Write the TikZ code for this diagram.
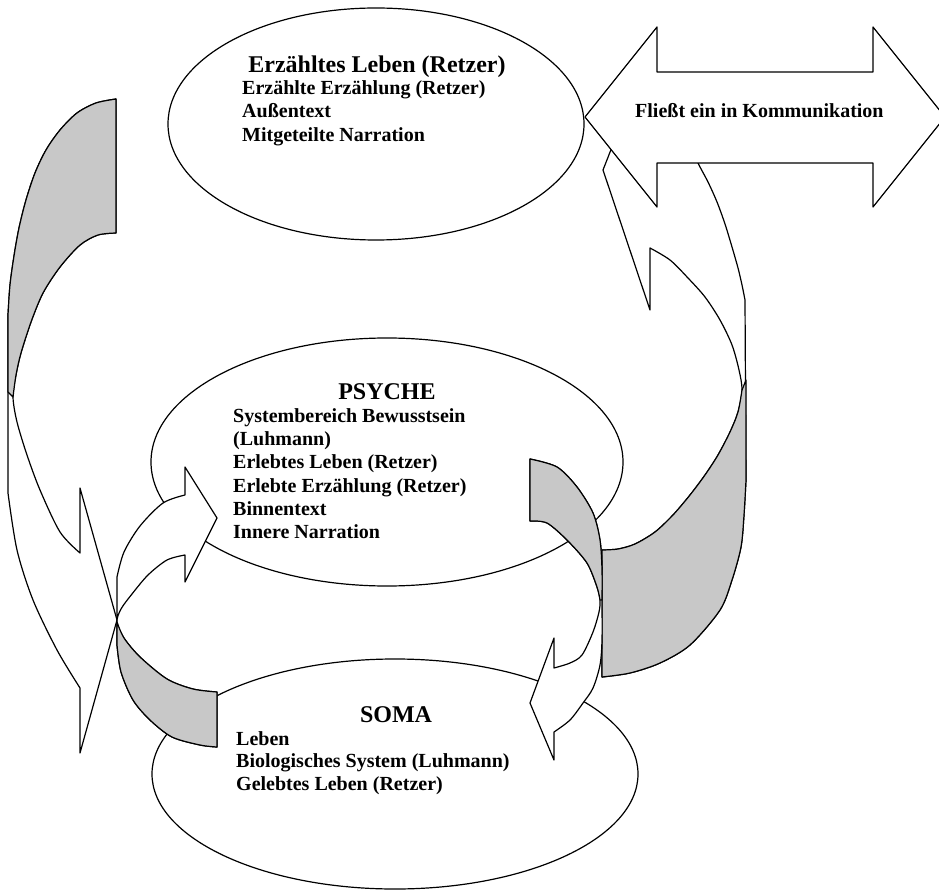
\documentclass[tikz,border=0pt]{standalone}
\usepackage{fontspec}
\setmainfont{Liberation Serif}
\usetikzlibrary{shapes.geometric}
\definecolor{ribbon}{RGB}{200,200,200}
\begin{document}
\begin{tikzpicture}[x=1pt,y=-1pt,
  outline/.style={draw=black, line width=1.2pt, line join=round},
  whitepart/.style={outline, fill=white},
  graypart/.style={outline, fill=ribbon},
  bubble/.style={ellipse, draw=black, line width=1.2pt, fill=white, inner sep=0pt},
  titletext/.style={font=\fontsize{24}{28}\selectfont\bfseries, anchor=base, inner sep=0pt},
  bodytext/.style={font=\fontsize{20}{23}\selectfont\bfseries, anchor=base west, inner sep=0pt},
]
\useasboundingbox (0,0) rectangle (939,890);
\fill[white] (0,0) rectangle (939,890);

% ellipses
\node[bubble, minimum width=416pt, minimum height=232pt] (narr) at (376,124) {};
\node[bubble, minimum width=472pt, minimum height=248pt] (psyche) at (387,462) {};
\node[bubble, minimum width=486pt, minimum height=230pt] (soma) at (395,774) {};

% A1: left big curved arrow
\path[whitepart] plot[smooth] coordinates {(116,99) (96,103) (77,113) (60,130) (46,150) (35,173) (26,200) (19,228) (14,256) (10,285) (8,315)}
  -- (8,493)
  -- plot[smooth] coordinates {(8,493) (17,550) (33,600) (57,650) (80,688)}
  -- (80,753) -- (117,620) -- (80,488) -- (80,553)
  -- plot[smooth] coordinates {(80,553) (60,532) (40,490) (27,455) (17,422) (13,397) (16,375) (21,353) (31,322) (43,293) (60,267) (80,245) (98,235) (116,233)}
  -- cycle;
\path[graypart] plot[smooth] coordinates {(116,99) (96,103) (77,113) (60,130) (46,150) (35,173) (26,200) (19,228) (14,256) (10,285) (8,315)}
  -- (8,392)
  -- plot[smooth] coordinates {(13,397) (16,375) (21,353) (31,322) (43,293) (60,267) (80,245) (98,235) (116,233)}
  -- cycle;

% A2: right big curved arrow
\path[whitepart] plot[smooth] coordinates {(602,550) (618,549) (635,544) (655,532) (673,515) (690,495) (705,475) (718,455) (730,432) (738,412) (742,390) (739,370) (732,345) (720,320) (705,297) (688,278) (670,260) (650,248)}
  -- (650,310) -- (603,170) -- (654,40) -- (654,92)
  -- plot[smooth] coordinates {(654,92) (672,118) (688,140) (698,163) (708,182) (717,202) (725,224) (732,247) (738,268) (742,285) (745,300)}
  -- (746,480)
  -- plot[smooth] coordinates {(746,480) (744,515) (741,547) (732,580) (720,610) (690,645) (660,663) (630,673) (602,677)}
  -- cycle;
\path[graypart] plot[smooth] coordinates {(742,390) (738,412) (730,432) (718,455) (705,475) (690,495) (673,515) (655,532) (635,544) (618,549) (602,550)}
  -- (602,677)
  -- plot[smooth] coordinates {(602,677) (630,673) (660,663) (690,645) (720,610) (732,580) (741,547) (744,515) (746,480)}
  -- (746,380) -- cycle;

% A3: arrow from psyche down to soma
\path[whitepart] plot[smooth] coordinates {(530,459) (557,467) (577,487) (593,513) (600,540) (602,570) (602,600) (602,640) (600,665) (593,688) (583,703) (570,720) (554,732)}
  -- (554,760) -- (530,703) -- (554,638) -- (554,668)
  -- plot[smooth] coordinates {(554,668) (570,663) (582,655) (593,632) (599,612) (600,600) (597,587) (587,563) (567,540) (547,523) (530,521)}
  -- cycle;
\path[graypart] plot[smooth] coordinates {(530,459) (557,467) (577,487) (593,513) (600,540) (602,570) (602,600)}
  -- (600,600)
  -- plot[smooth] coordinates {(600,600) (597,587) (587,563) (567,540) (547,523) (530,521)}
  -- cycle;

% A4: arrow from soma up to psyche
\path[whitepart] plot[smooth] coordinates {(217,692) (193,689) (167,679) (140,657) (124,638) (117,622) (121,609) (132,594) (148,575) (167,560) (185,555)}
  -- (185,582) -- (217,518) -- (185,467) -- (185,495)
  -- plot[smooth] coordinates {(185,495) (163,503) (140,526) (124,552) (117,577)}
  -- (117,645)
  -- plot[smooth] coordinates {(117,645) (121,672) (133,700) (150,720) (172,737) (200,745) (217,747)}
  -- cycle;
\path[graypart] plot[smooth] coordinates {(117,622) (124,638) (140,657) (167,679) (193,689) (217,692)}
  -- (217,747)
  -- plot[smooth] coordinates {(217,747) (200,745) (172,737) (150,720) (133,700) (121,672) (117,645)}
  -- cycle;

% double arrow
\path[whitepart] (585,117) -- (657,27) -- (657,72) -- (873,72) -- (873,27) -- (945,117)
  -- (873,207) -- (873,163) -- (657,163) -- (657,207) -- cycle;

% texts
\node[titletext] (narrT) at (377,73) {Erzähltes Leben (Retzer)};
\node[bodytext] (narr1) at (242,95) {Erzählte Erzählung (Retzer)};
\node[bodytext] (narr2) at (242,118) {Außentext};
\node[bodytext] (narr3) at (242,142) {Mitgeteilte Narration};

\node[bodytext] (komm) at (635,118) {Fließt ein in Kommunikation};

\node[titletext] (psyT) at (387,399) {PSYCHE};
\node[bodytext] (psy1) at (233,422) {Systembereich Bewusstsein};
\node[bodytext] (psy2) at (233,445) {(Luhmann)};
\node[bodytext] (psy3) at (233,468) {Erlebtes Leben (Retzer)};
\node[bodytext] (psy4) at (233,492) {Erlebte Erzählung (Retzer)};
\node[bodytext] (psy5) at (233,515) {Binnentext};
\node[bodytext] (psy6) at (233,538) {Innere Narration};

\node[titletext] (somaT) at (396,722) {SOMA};
\node[bodytext] (soma1) at (236,745) {Leben};
\node[bodytext] (soma2) at (236,767) {Biologisches System (Luhmann)};
\node[bodytext] (soma3) at (236,790) {Gelebtes Leben (Retzer)};
\end{tikzpicture}
\end{document}
